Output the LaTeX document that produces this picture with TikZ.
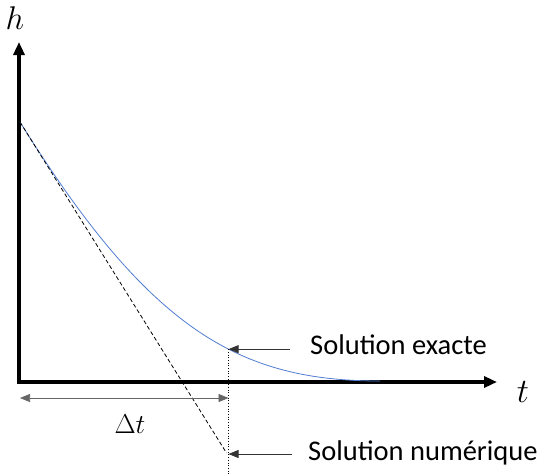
\documentclass[tikz,border=0pt]{standalone}
\usepackage{fontspec}
\setmainfont{Carlito}
\usetikzlibrary{arrows.meta, calc}

\definecolor{curveblue}{RGB}{80,125,210}

\begin{document}
\begin{tikzpicture}[
    x=1pt, y=-1pt,
    axis/.style={line width=3.2pt, {Triangle[length=13pt, width=11pt]}-{Triangle[length=13pt, width=11pt]}},
    exactcurve/.style={draw=curveblue, line width=0.8pt},
    tangent/.style={dashed, line width=0.8pt, dash pattern=on 4pt off 2.5pt},
    guide/.style={dotted, line width=0.7pt},
    pointer/.style={-{Triangle[length=10pt, width=8pt]}, line width=0.7pt, black!80},
    dtarrow/.style={{Triangle[length=10pt, width=8pt]}-{Triangle[length=10pt, width=8pt]}, line width=0.7pt, black!60},
    axislabel/.style={font=\Huge, scale=1.1},
    sollabel/.style={font=\fontsize{28.5}{32}\selectfont, inner ysep=0pt}
]
    % Frame of the picture
    \useasboundingbox (0,0) rectangle (545,474);

    % Key points
    \coordinate (origin) at (19,382);
    \coordinate (hmax) at (19,42);
    \coordinate (tmax) at (497,382);
    \coordinate (start) at (20,122);
    \coordinate (flat) at (380,381);

    % Axes
    \draw[axis] (hmax) -- (origin) -- (tmax);
    \node[axislabel, scale=1.2] (hlabel) at (15,18) {$h$};
    \node[axislabel, scale=1.25] (tlabel) at (523,392) {$t$};

    % Exact solution
    \draw[exactcurve] (start) .. controls (150,331) and (240,381) .. (flat)
        coordinate[pos=0.595] (exact);

    % Numerical step (Euler)
    \coordinate (numer) at (exact |- 0,454);
    \draw[tangent] (start) -- ($(numer)+(-2,-1)$);
    \coordinate (bottom) at (exact |- 0,474);
    \draw[guide] (exact) -- (bottom);

    % Time step
    \coordinate (dtL) at (20,398);
    \coordinate (dtR) at (dtL -| exact);
    \draw[dtarrow] (dtL) -- (dtR);
    \node[axislabel] (dtlabel) at (130,424) {$\Delta t$};

    % Labels
    \node[sollabel, anchor=base west, inner xsep=20pt] (exlabel) at (290,354) {Solution exacte};
    \draw[pointer] (exlabel.west |- exact) -- (exact);
    \node[sollabel, anchor=base west, inner xsep=16pt] (numlabel) at (292,460) {Solution numérique};
    \draw[pointer] (numlabel.west |- numer) -- (numer);

\end{tikzpicture}
\end{document}
